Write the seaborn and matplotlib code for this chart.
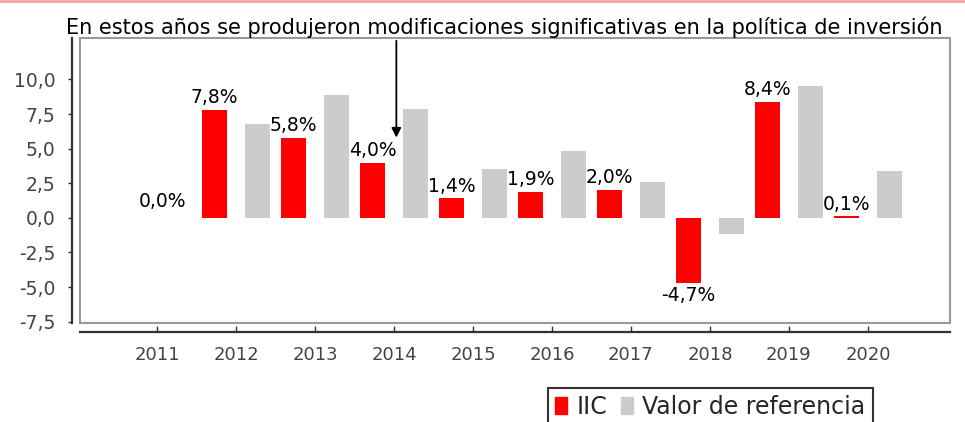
import numpy as np
import pandas as pd
import seaborn as sns
import matplotlib.pyplot as plt
from matplotlib.patches import Rectangle
from matplotlib.lines import Line2D

# values
years = ['2011', '2012', '2013', '2014', '2015', '2016', '2017', '2018', '2019', '2020']
iic = [0.0, 7.8, 5.8, 4.0, 1.4, 1.9, 2.0, -4.7, 8.4, 0.1]
referencia = [np.nan, 6.8, 8.9, 7.9, 3.5, 4.8, 2.6, -1.2, 9.5, 3.4]
series_names = ['IIC', 'Valor de referencia']
series_colors = ['#ff0000', '#cccccc']
title = 'En estos años se produjeron modificaciones significativas en la política de inversión'

data = pd.DataFrame({
    'year': years * 2,
    'value': iic + referencia,
    'serie': [series_names[0]] * len(years) + [series_names[1]] * len(years),
})

sns.set_style('white')
plt.rcParams['font.family'] = ['DejaVu Sans']

fig = plt.figure(figsize=(9.65, 4.22), dpi=100)
ax = fig.add_axes([0.0829, 0.2346, 0.9016, 0.6754])

sns.barplot(
    data=data, x='year', y='value', hue='serie', order=years,
    hue_order=series_names, palette=series_colors,
    width=1.09, gap=0.41, saturation=1, errorbar=None, ax=ax, legend=False,
    linewidth=0,
)

ax.set_xlim(-0.975, 10.04)
ax.set_ylim(-7.6, 13.0)
ticks = np.arange(-7.5, 10.01, 2.5)
ax.set_yticks(ticks)
ax.set_yticklabels([f'{t:.1f}'.replace('.', ',') for t in ticks])
ax.set_xlabel('')
ax.set_ylabel('')

# value labels on the IIC bars
labels = [f'{v:.1f}%'.replace('.', ',') for v in iic]
ax.bar_label(ax.containers[0], labels=[''] + labels[1:], padding=2, fontsize=13.5, color='black')
ax.text(0.07, 0.5, labels[0], ha='center', va='bottom', fontsize=13.5, color='black')

# axes drawn apart from the plot box, like the original
for side in ['top', 'right']:
    ax.spines[side].set_visible(False)
ax.spines['left'].set_position(('outward', 6))
ax.spines['bottom'].set_position(('outward', 6.5))
for side in ['left', 'bottom']:
    ax.spines[side].set_color('#333333')
    ax.spines[side].set_linewidth(1.6)
ax.add_patch(Rectangle((0, 0), 1, 1, transform=ax.transAxes, fill=False,
                       edgecolor='#999999', lw=1.5, clip_on=False))
ax.tick_params(axis='y', direction='out', length=3, width=1, color='#333333',
               labelsize=13.5, labelcolor='#444444', left=True, pad=8.5)
ax.tick_params(axis='x', direction='in', length=4, width=1, color='#333333',
               labelsize=13, labelcolor='#444444', bottom=True, pad=10)

# annotation arrow
ax.annotate('', xy=(3.03, 5.6), xytext=(3.03, 13.0),
            arrowprops=dict(arrowstyle='-|>', color='black', lw=1.3, mutation_scale=14))
fig.text(0.068, 0.935, title, ha='left', va='center', fontsize=15, color='black')

# legend below the plot
handles = [Rectangle((0, 0), 1, 1, color=c) for c in series_colors]
leg = fig.legend(handles, series_names, loc='upper center', bbox_to_anchor=(0.736, 0.081),
                 ncol=2, fontsize=17, frameon=True, fancybox=False, handlelength=0.5,
                 handleheight=0.75, handletextpad=0.4, columnspacing=0.6,
                 borderpad=0.3, borderaxespad=0)
leg.get_frame().set_edgecolor('black')
leg.get_frame().set_linewidth(1.5)

fig.add_artist(Line2D([0, 1], [0.997, 0.997], color='#f4a0a0', lw=2))

fig.savefig('out.png', dpi=100)
